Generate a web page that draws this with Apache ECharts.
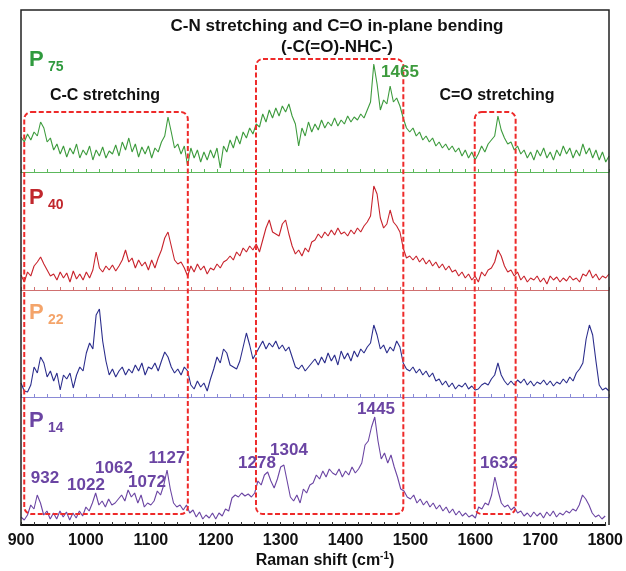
<!DOCTYPE html>
<html>
<head>
<meta charset="utf-8">
<script src="https://cdn.jsdelivr.net/npm/echarts/dist/echarts.min.js"></script>
<style>html,body{margin:0;padding:0;background:#fff}#c{width:626px;height:571px}</style>
</head>
<body>
<div id="c"></div>
<script>
// Raman shift grid (cm-1)
const shiftStart = 900;
const shiftStep = 5;
const axisTicks = [900, 1000, 1100, 1200, 1300, 1400, 1500, 1600, 1700, 1800];

// Intensities (arbitrary units), one value per 5 cm-1 from 900 to 1800
const p75 = [
  35,30,38,32,40,36,50,44,30,34,
  22,28,18,26,15,24,18,28,14,22,
  17,26,12,22,16,25,14,21,18,27,
  16,30,22,34,20,28,15,25,18,26,
  14,24,20,30,36,55,40,24,28,18,
  26,6,24,14,22,10,20,12,22,14,
  24,4,26,20,32,24,36,28,40,34,
  44,38,48,45,58,50,62,54,64,56,
  66,60,68,56,48,26,44,36,50,40,
  48,42,52,44,50,46,54,46,52,48,
  56,50,55,52,58,54,62,70,108,88,
  62,72,68,86,70,74,66,54,44,40,
  44,36,40,32,36,30,34,26,30,24,
  28,22,26,20,24,16,22,14,20,12,
  18,26,20,28,32,36,56,42,34,28,
  30,22,26,18,22,14,20,12,22,16,
  24,14,20,12,22,16,26,18,24,14,
  22,16,28,18,24,14,22,12,20,10,
  16
];
const p40 = [
  15,8,18,14,24,28,33,26,20,14,
  16,10,18,12,17,8,19,11,16,10,
  18,12,20,38,22,18,24,20,25,19,
  24,30,40,28,32,22,30,24,28,20,
  30,22,32,40,52,58,44,30,26,28,
  22,14,24,18,26,20,24,16,22,20,
  26,22,28,30,34,30,38,34,42,38,
  44,40,46,38,50,62,70,58,56,54,
  66,70,56,44,36,40,34,42,38,48,
  50,56,52,58,54,60,55,62,56,58,
  54,60,56,62,58,64,68,74,104,96,
  72,62,66,80,68,64,58,42,32,34,
  30,34,28,32,26,30,24,28,22,26,
  20,24,18,20,14,18,12,16,10,14,
  8,18,14,20,22,28,40,34,24,18,
  20,14,18,10,14,8,12,10,14,8,
  12,6,14,10,13,8,12,9,14,10,
  12,8,16,14,20,12,16,10,14,12,
  16
];
const p22 = [
  14,6,5,12,30,24,40,34,20,26,
  16,24,7,22,18,24,9,22,30,26,
  44,54,48,82,88,56,36,22,28,20,
  26,30,22,28,24,32,26,34,22,30,
  28,34,26,36,45,40,30,24,28,22,
  30,26,12,8,16,10,14,6,18,28,
  40,34,48,44,32,30,28,36,50,64,
  52,38,44,50,56,48,54,50,56,48,
  52,46,50,40,30,28,32,26,30,34,
  38,32,40,34,44,36,42,32,46,38,
  44,36,46,40,48,44,50,54,72,62,
  48,52,44,50,46,56,50,34,28,26,
  30,24,28,22,26,20,24,16,18,12,
  16,10,14,8,12,10,14,8,11,7,
  8,12,14,12,18,22,34,22,16,12,
  16,12,17,14,18,12,16,11,15,13,
  17,12,16,11,15,13,18,14,20,16,
  24,28,34,58,72,62,36,12,7,9,
  6
];
const p14 = [
  8,5,10,20,16,30,22,10,14,6,
  12,6,14,8,13,5,12,7,14,9,
  18,14,22,32,20,24,18,26,20,22,
  26,30,24,35,28,32,22,30,18,22,
  20,24,34,30,40,55,36,22,18,20,
  15,20,12,15,8,13,6,10,7,12,
  6,12,9,16,14,27,30,28,32,29,
  31,28,32,44,40,50,53,44,37,46,
  58,60,44,28,24,30,22,36,32,40,
  42,50,46,54,48,56,52,50,56,48,
  54,50,58,52,56,62,80,84,98,108,
  84,66,72,62,70,58,48,36,34,28,
  26,30,22,26,20,24,18,22,16,20,
  14,18,12,16,10,14,9,12,8,10,
  7,18,16,22,20,30,48,34,22,18,
  20,15,18,12,14,9,12,8,13,9,
  12,7,13,9,14,8,12,10,14,12,
  16,14,20,30,26,20,12,8,10,6,
  9
];

const seriesNames = ['P75', 'P40', 'P22', 'P14'];
const seriesSubs = ['75', '40', '22', '14'];
const peakLabelsP14 = ['932', '1022', '1062', '1072', '1127', '1278', '1304', '1445', '1632'];
const peakLabelP75 = '1465';
const bandNames = ['C-C stretching', 'C-N stretching and C=O in-plane bending', 'C=O stretching'];
const bandSubtitle = '(-C(=O)-NHC-)';
// band ranges in cm-1 (dashed boxes)
const bandFrom = [905, 1262, 1599];
const bandTo = [1157, 1489, 1662];

// ---------- layout / style ----------
const allData = [p75, p40, p22, p14];
const lineColors = ['#3d9b3d', '#c8232c', '#2b2d8c', '#6b45a3'];
const axisColors = ['#5cb85c', '#d07070', '#8a8ad6', '#111111'];
const labelColors = ['#2f9a3e', '#c1272d', '#f4a46a', '#6b45a3'];
const gridTops = [10, 172, 290, 397];
const gridHeights = [162, 118, 107, 128];
const FONT = '"Liberation Sans", Arial, sans-serif';

const toPairs = arr => arr.map((v, i) => [shiftStart + i * shiftStep, v]);

const grids = [], xAxes = [], yAxes = [], series = [];
for (let i = 0; i < 4; i++) {
  const last = i === 3;
  grids.push({ left: 21, right: 17, top: gridTops[i], height: gridHeights[i] });
  xAxes.push({
    type: 'value', gridIndex: i, min: 900, max: 1800, interval: 20,
    axisLine: { show: true, lineStyle: { color: axisColors[i], width: last ? 2 : 1.2 } },
    axisTick: { show: true, inside: true, length: 3, lineStyle: { color: last ? '#333' : axisColors[i], width: 1 } },
    axisLabel: {
      show: last, margin: 8, color: '#111', fontSize: 16, fontWeight: 'bold', fontFamily: FONT,
      formatter: v => axisTicks.includes(v) ? String(v) : ''
    },
    splitLine: { show: false }
  });
  yAxes.push({
    type: 'value', gridIndex: i, min: 0, max: gridHeights[i],
    axisLine: { show: false }, axisTick: { show: false }, axisLabel: { show: false }, splitLine: { show: false }
  });
  series.push({
    name: seriesNames[i], type: 'line', xAxisIndex: i, yAxisIndex: i,
    data: toPairs(allData[i]), showSymbol: false, symbol: 'none',
    lineStyle: { color: lineColors[i], width: 1.1 }, z: 3
  });
}

const chart = echarts.init(document.getElementById('c'), null, { renderer: 'canvas' });
chart.setOption({
  animation: false,
  backgroundColor: '#fff',
  grid: grids, xAxis: xAxes, yAxis: yAxes, series: series
});

function txt(text, x, y, size, color, align) {
  return {
    type: 'text', x: x, y: y, z: 20,
    style: { text: text, fill: color, font: 'bold ' + size + 'px ' + FONT,
      align: align || 'center', verticalAlign: 'middle' }
  };
}

const g = [];
// frame
g.push({ type: 'polyline', z: 10, shape: { points: [[21, 525], [21, 10], [609, 10], [609, 525]] },
  style: { stroke: '#222', lineWidth: 1.5, fill: null } });

// dashed band boxes
const boxTops = [112, 59, 112];
const boxBottom = 514;
for (let b = 0; b < 3; b++) {
  const x1 = chart.convertToPixel({ xAxisIndex: 3 }, bandFrom[b]);
  const x2 = chart.convertToPixel({ xAxisIndex: 3 }, bandTo[b]);
  g.push({ type: 'rect', z: 15, shape: { x: x1, y: boxTops[b], width: x2 - x1, height: boxBottom - boxTops[b], r: 7 },
    style: { fill: null, stroke: '#ee2a2a', lineWidth: 2, lineDash: [5, 2.5] } });
}

// band titles
g.push(txt(bandNames[1], 337, 26, 17, '#111'));
g.push(txt(bandSubtitle, 337, 47, 17, '#111'));
g.push(txt(bandNames[0], 105, 96, 16, '#111'));
g.push(txt(bandNames[2], 497, 96, 16, '#111'));

// panel labels
const pY = [60, 198, 313, 421];
for (let i = 0; i < 4; i++) {
  g.push(txt('P', 29, pY[i], 22, labelColors[i], 'left'));
  g.push(txt(seriesSubs[i], 48, pY[i] + 7, 14, labelColors[i], 'left'));
}

// peak labels
const peakPos = [[45, 478], [86, 485], [114, 468], [147, 482], [167, 458], [257, 463], [289, 450], [376, 409], [499, 463]];
peakLabelsP14.forEach((t, k) => g.push(txt(t, peakPos[k][0], peakPos[k][1], 17, '#6b45a3')));
g.push(txt(peakLabelP75, 400, 72, 17, '#3d9b3d'));

// axis title
g.push({
  type: 'text', x: 325, y: 561, z: 20,
  style: {
    text: '{a|Raman shift (cm}{s|-1}{a|)}', align: 'center', verticalAlign: 'middle',
    rich: {
      a: { fontSize: 16, fontWeight: 'bold', fontFamily: FONT, fill: '#111', lineHeight: 20 },
      s: { fontSize: 10, fontWeight: 'bold', fontFamily: FONT, fill: '#111', verticalAlign: 'top', lineHeight: 20, padding: [0, 0, 8, 0] }
    }
  }
});

chart.setOption({ graphic: g });
</script>
</body>
</html>
